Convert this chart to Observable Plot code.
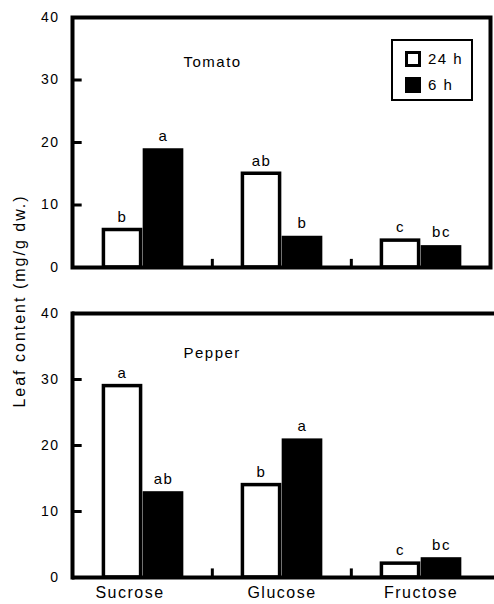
<!DOCTYPE html>
<html>
<head>
<meta charset="utf-8">
<script src="https://cdn.jsdelivr.net/npm/d3@7"></script>
<script src="https://cdn.jsdelivr.net/npm/@observablehq/plot@0.6"></script>
<style>
  html, body { margin: 0; padding: 0; background: white; }
  #wrap { position: relative; width: 494px; height: 604px; overflow: hidden; font-family: "Liberation Sans", Arial, sans-serif; color: black; }
  #wrap svg { position: absolute; left: 0; }
  #wrap svg text { letter-spacing: 1.5px; }
  #ylabel { position: absolute; left: 20px; top: 301px; transform: translate(-50%, -50%) rotate(-90deg); white-space: nowrap; font-size: 16px; letter-spacing: 2px; }
  #legend { position: absolute; left: 391px; top: 39px; width: 78px; height: 58px; border: 2.5px solid black; font-size: 15px; letter-spacing: 1.5px; }
  .item { position: absolute; left: 12px; height: 16px; line-height: 16px; }
  .sw { position: absolute; left: 0; top: 0; width: 16px; height: 16px; box-sizing: border-box; }
  .item span.t { position: absolute; left: 23px; top: 0; white-space: nowrap; }
</style>
</head>
<body>
<div id="wrap">
  <div id="ylabel">Leaf content (mg/g dw.)</div>
</div>
<script>
// ---- data ----
const sugars = ["Sucrose", "Glucose", "Fructose"];
const seriesNames = ["24 h", "6 h"];
const yTicks = [0, 10, 20, 30, 40];
const innerTicks = [10, 20, 30];

const tomato24 = [6, 15, 4.3];
const tomato6 = [19, 5, 3.5];
const tomatoLetters24 = ["b", "ab", "c"];
const tomatoLetters6 = ["a", "b", "bc"];

const pepper24 = [29, 14, 2.1];
const pepper6 = [13, 21, 3];
const pepperLetters24 = ["a", "b", "c"];
const pepperLetters6 = ["ab", "a", "bc"];

function rows(v24, v6, l24, l6) {
  const out = [];
  sugars.forEach((s, i) => {
    out.push({sugar: s, series: seriesNames[0], value: v24[i], letter: l24[i]});
    out.push({sugar: s, series: seriesNames[1], value: v6[i], letter: l6[i]});
  });
  return out;
}

const W = 494, ML = 72, XR = 490;
const bw = (XR - ML) / sugars.length;
const barW = 41;
const SW = 3.5;

function panel({data, title, height, marginTop, marginBottom, showX, titleDy, closedRight}) {
  const d24 = data.filter(d => d.series === seriesNames[0]);
  const d6 = data.filter(d => d.series === seriesNames[1]);
  const marks = [
    Plot.barY(d24, {x: "sugar", y: "value", fill: "white", stroke: "black", strokeWidth: SW,
      insetLeft: bw / 2 - barW + SW / 2, insetRight: bw / 2 + SW / 2, insetTop: 0, insetBottom: 0}),
    Plot.barY(d6, {x: "sugar", y: "value", fill: "black",
      insetLeft: bw / 2, insetRight: bw / 2 - barW, insetTop: 0, insetBottom: 0}),
    Plot.text(d24, {x: "sugar", y: "value", text: "letter", dx: -barW / 2, dy: -13, fontSize: 15}),
    Plot.text(d6, {x: "sugar", y: "value", text: "letter", dx: barW / 2, dy: -13, fontSize: 15}),
    Plot.ruleX(sugars.slice(1), {x: d => d, dx: -bw / 2, y1: 0, y2: 1.3, stroke: "black", strokeWidth: 3}),
    Plot.tickY(innerTicks, {y: d => d, x: () => sugars[0], insetLeft: 0, insetRight: bw - 9, stroke: "black", strokeWidth: 3}),
    Plot.axisY(yTicks, {tickSize: 0, tickPadding: 13, fontSize: 14, label: null}),
    Plot.text([title], {frameAnchor: "top-left", dx: 111, dy: titleDy, textAnchor: "start", lineAnchor: "middle", fontSize: 15})
  ];
  if (closedRight) {
    marks.push(Plot.frame({stroke: "black", strokeWidth: 4}));
  } else {
    marks.push(Plot.ruleY([0, 40], {stroke: "black", strokeWidth: 4}));
    marks.push(Plot.frame({anchor: "left", stroke: "black", strokeWidth: 4}));
  }
  if (showX) {
    marks.push(Plot.axisX(sugars.slice(0, 1), {tickSize: 0, tickPadding: 9, fontSize: 16, dx: -13, label: null}));
    marks.push(Plot.axisX(sugars.slice(1), {tickSize: 0, tickPadding: 9, fontSize: 16, label: null}));
  }
  return Plot.plot({
    width: W, height, marginLeft: ML, marginRight: closedRight ? W - XR : 0, marginTop, marginBottom,
    style: {fontFamily: "'Liberation Sans', Arial, sans-serif", fontSize: "14px", color: "black", background: "white"},
    x: {domain: sugars, padding: 0, range: [ML, XR], axis: null},
    y: {domain: [0, 40], axis: null},
    marks
  });
}

const wrap = document.getElementById("wrap");
const topPanel = panel({data: rows(tomato24, tomato6, tomatoLetters24, tomatoLetters6), title: "Tomato",
  height: 280, marginTop: 17, marginBottom: 13, showX: false, titleDy: 45, closedRight: true});
topPanel.style.top = "0px";
const bottomPanel = panel({data: rows(pepper24, pepper6, pepperLetters24, pepperLetters6), title: "Pepper",
  height: 324, marginTop: 33, marginBottom: 27, showX: true, titleDy: 40, closedRight: false});
bottomPanel.style.top = "280px";
wrap.insertBefore(bottomPanel, wrap.firstChild);
wrap.insertBefore(topPanel, wrap.firstChild);

// legend (inside top panel)
const legend = document.createElement("div");
legend.id = "legend";
seriesNames.forEach((name, i) => {
  const item = document.createElement("div");
  item.className = "item";
  item.style.top = (10 + i * 26) + "px";
  const sw = document.createElement("div");
  sw.className = "sw";
  if (i === 0) { sw.style.background = "white"; sw.style.border = "3.5px solid black"; }
  else { sw.style.background = "black"; }
  const t = document.createElement("span");
  t.className = "t";
  t.textContent = name;
  item.appendChild(sw);
  item.appendChild(t);
  legend.appendChild(item);
});
wrap.appendChild(legend);
</script>
</body>
</html>
